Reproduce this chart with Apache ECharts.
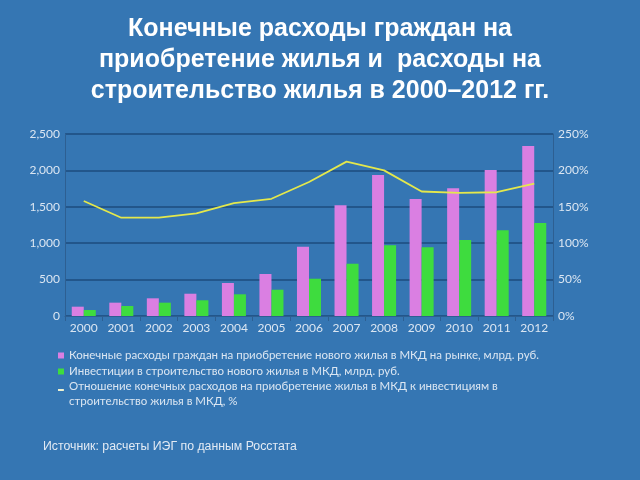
<!DOCTYPE html>
<html><head><meta charset="utf-8">
<script src="https://cdn.jsdelivr.net/npm/echarts@6/dist/echarts.min.js"></script>
<style>html,body{margin:0;padding:0;background:#3576B3;}#c{width:640px;height:480px;}</style>
</head><body><div id="c"></div>
<script>
const years = ['2000','2001','2002','2003','2004','2005','2006','2007','2008','2009','2010','2011','2012'];
const spending = [128,183,243,306,453,577,952,1520,1937,1607,1754,2005,2335];
const investment = [82,137,183,216,298,361,512,718,971,944,1044,1177,1277];
const ratio = [158,135,135,141,155,161,184,212,200,171,169,170,182];
const leftTicks = [0,500,1000,1500,2000,2500];
const rightTicks = [0,50,100,150,200,250];
const names = [
  'Конечные расходы граждан на приобретение нового жилья в МКД на рынке, млрд. руб.',
  'Инвестиции в строительство нового жилья в МКД, млрд. руб.',
  'Отношение конечных расходов на приобретение жилья в МКД к инвестициям в\nстроительство жилья в МКД, %'
];
const titleText = 'Конечные расходы граждан на\nприобретение жилья и  расходы на\nстроительство жилья в 2000–2012 гг.';
const sourceText = 'Источник: расчеты ИЭГ по данным Росстата';

const fmtThousands = v => String(v).replace(/\B(?=(\d{3})+(?!\d))/g, ',');
const chart = echarts.init(document.getElementById('c'));
const lbl = {color:'#dbe6f2', fontSize:12, fontFamily:'Lato'};
const legendText = {color:'#dbe6f2', fontSize:11.5, fontFamily:'Lato', lineHeight:15};
chart.setOption({
  backgroundColor:'#3576B3',
  animation:false,
  title:{text:titleText, left:'center', top:9,
    textStyle:{color:'#ffffff', fontSize:25, fontWeight:'bold', fontFamily:'Liberation Sans', lineHeight:31}},
  grid:{left:65, right:87, top:134, bottom:164},
  legend:[
    {orient:'vertical', left:53, top:343, itemWidth:6, itemHeight:6, itemGap:1,
     textStyle:legendText,
     data:[{name:names[0], icon:'rect'},{name:names[1], icon:'rect'}]},
    {orient:'vertical', left:53, top:374, itemWidth:6, itemHeight:10,
     textStyle:legendText,
     data:[{name:names[2], icon:'path://M0,0 L10,0 L10,3.5 L0,3.5 Z M0,17 L0.01,17 L0,17.01 Z'}]}
  ],
  graphic:[{type:'text', left:43, top:441, style:{text:sourceText, fill:'#e2eaf4', fontSize:12.3, fontFamily:'Liberation Sans'}}],
  xAxis:{type:'category', data:years,
    axisLine:{show:true, lineStyle:{color:'#2d5f92'}},
    axisTick:{show:true, lineStyle:{color:'#2d5f92'}},
    axisLabel:Object.assign({margin:6}, lbl)},
  yAxis:[
    {type:'value', min:0, max:2500, interval:500,
     axisLine:{show:true, lineStyle:{color:'#2d5f92'}},
     splitLine:{lineStyle:{color:'#1c4d7e', width:1.5}},
     axisLabel:Object.assign({formatter:fmtThousands, margin:5}, lbl)},
    {type:'value', min:0, max:250, interval:50, position:'right',
     axisLine:{show:true, lineStyle:{color:'#2d5f92'}},
     splitLine:{show:false},
     axisLabel:Object.assign({formatter:'{value}%', margin:5, align:'left'}, lbl)}
  ],
  series:[
    {name:names[0], type:'bar', data:spending, barGap:'0%', barCategoryGap:'36%', itemStyle:{color:'#DA7FE2'}},
    {name:names[1], type:'bar', data:investment, itemStyle:{color:'#3EDC3E'}},
    {name:names[2], type:'line', yAxisIndex:1, data:ratio, showSymbol:false, symbol:'none',
     lineStyle:{color:'#E4E84C', width:1.8}, itemStyle:{color:'#EEF2D0'}}
  ]
});
</script></body></html>
